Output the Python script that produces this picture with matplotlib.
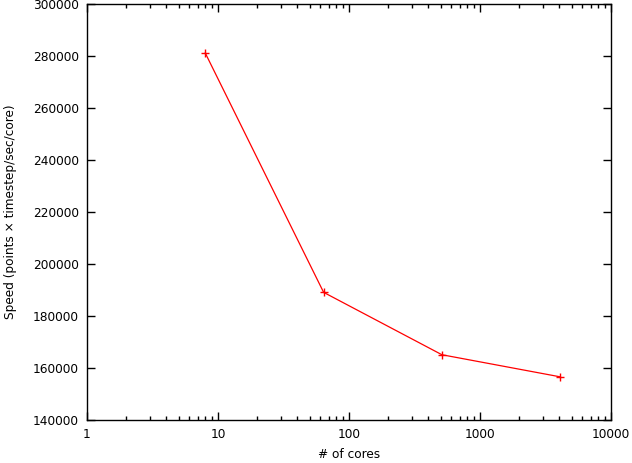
import numpy as np
import matplotlib
matplotlib.use('agg')
import matplotlib.pyplot as plt
from matplotlib.ticker import FixedLocator, NullFormatter

cores = [8, 64, 512, 4096]
speed = [281100, 189100, 165100, 156600]
xticks = [1, 10, 100, 1000, 10000]
yticks = [140000, 160000, 180000, 200000, 220000, 240000, 260000, 280000, 300000]

plt.rcParams['font.family'] = 'DejaVu Sans'
plt.rcParams['font.size'] = 8.7

fig = plt.figure(figsize=(6.32, 4.63), dpi=100)
ax = fig.add_axes([87/632, 1 - 420/463, (611-87)/632, (420-4)/463])

ax.plot(cores, speed, color='red', lw=0.9, marker='+', ms=6, mew=1.0)

ax.set_xscale('log')
ax.set_xlim(1, 10000)
ax.set_ylim(140000, 300000)
ax.set_xticks(xticks)
ax.set_xticklabels([str(v) for v in xticks])
ax.set_yticks(yticks)
ax.set_yticklabels([str(v) for v in yticks])
minors = [m * d for d in [1, 10, 100, 1000] for m in range(2, 10)]
ax.xaxis.set_minor_locator(FixedLocator(minors))
ax.xaxis.set_minor_formatter(NullFormatter())

ax.tick_params(which='both', direction='in', top=True, right=True, width=1, colors='black')
ax.tick_params(which='major', length=6, pad=6)
ax.tick_params(which='minor', length=3)
for s in ax.spines.values():
    s.set_linewidth(1)

ax.set_xlabel('# of cores', labelpad=5)
ax.set_ylabel('Speed (points × timestep/sec/core)', labelpad=11)

fig.savefig('out.png', dpi=100)
